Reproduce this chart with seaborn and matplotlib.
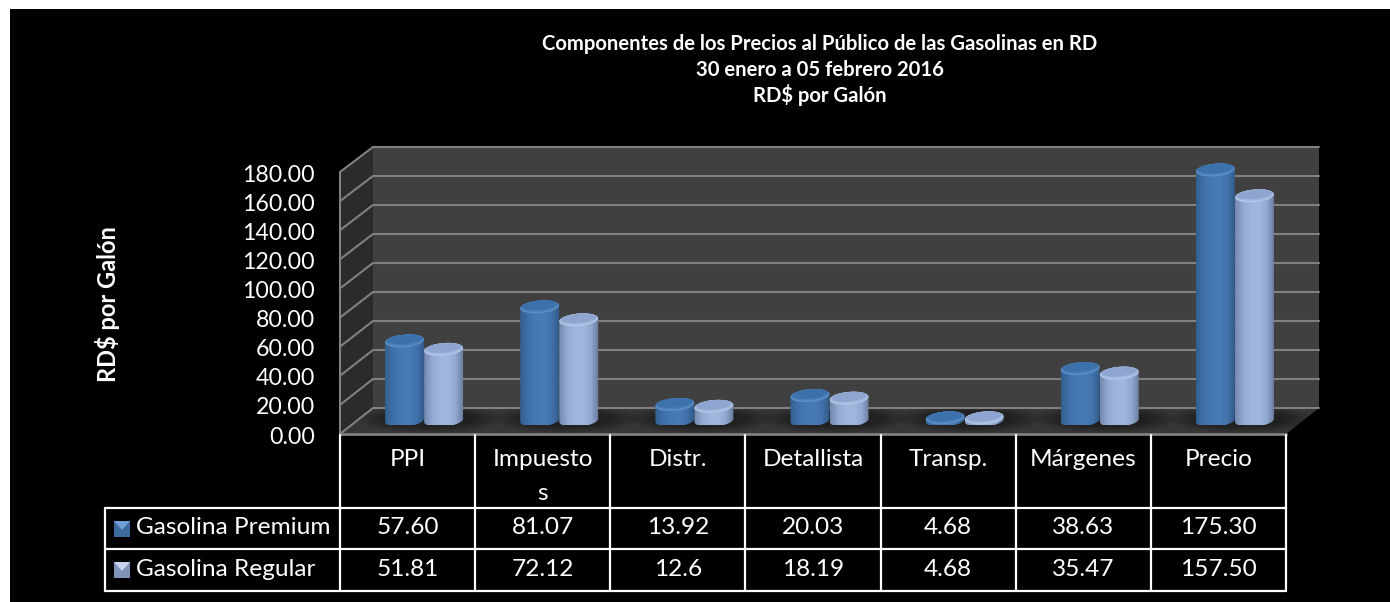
import numpy as np
import pandas as pd
import matplotlib
matplotlib.use('Agg')
import matplotlib.pyplot as plt
import seaborn as sns
from matplotlib.colors import LinearSegmentedColormap
from matplotlib.patches import Polygon, PathPatch, Rectangle, Ellipse
from matplotlib.path import Path

# Data
categories = ['PPI', 'Impuestos', 'Distr.', 'Detallista', 'Transp.', 'Márgenes', 'Precio']
premium = [57.60, 81.07, 13.92, 20.03, 4.68, 38.63, 175.30]
regular = [51.81, 72.12, 12.6, 18.19, 4.68, 35.47, 157.50]
premium_labels = ['57.60', '81.07', '13.92', '20.03', '4.68', '38.63', '175.30']
regular_labels = ['51.81', '72.12', '12.6', '18.19', '4.68', '35.47', '157.50']
category_labels = ['PPI', 'Impuesto\ns', 'Distr.', 'Detallista', 'Transp.', 'Márgenes', 'Precio']
series_names = ['Gasolina Premium', 'Gasolina Regular']
y_ticks = [0, 20, 40, 60, 80, 100, 120, 140, 160, 180]
title_lines = ['Componentes de los Precios al Público de las Gasolinas en RD',
               '30 enero a 05 febrero 2016', 'RD$ por Galón']

W, H = 1390, 602
sns.set_style('white')
plt.rcParams['font.family'] = ['Lato', 'DejaVu Sans']


def px_axes(fig, left, top, right, bottom, **kw):
    return fig.add_axes([left / W, 1 - bottom / H, (right - left) / W, (bottom - top) / H], **kw)


fig = plt.figure(figsize=(W / 100, H / 100), dpi=100, facecolor='white')

# background axes in picture pixels: black panel, 3D box, table
bg = px_axes(fig, 0, 0, W, H, zorder=0)
bg.set_xlim(0, W)
bg.set_ylim(H, 0)
bg.axis('off')
bg.add_patch(Rectangle((10, 9), W - 10, H - 9, color='black', lw=0))

x0, x1, depth_x = 340, 1286, 33
front_0, front_180 = 434, 172
back_0, back_180 = 408, 147
bg.add_patch(Polygon([(x0 + depth_x, back_180), (x1 + depth_x, back_180), (x1 + depth_x, back_0), (x0 + depth_x, back_0)],
                     color='#404040', lw=0))
bg.add_patch(Polygon([(x0, front_180), (x0 + depth_x, back_180), (x0 + depth_x, back_0), (x0, front_0)],
                     color='#2b2b2b', lw=0))
floor = Polygon([(x0, front_0), (x1, front_0), (x1 + depth_x, back_0), (x0 + depth_x, back_0)],
                color='#363636', lw=0)
bg.add_patch(floor)

# shadows on the floor
col_w = (x1 - x0) / 7
for i in range(7):
    cx = x0 + depth_x / 2 + col_w * (i + 0.5) + 6
    for k in range(8):
        sh = Ellipse((cx, 419), 2 * (72 - 4 * k), 2 * (14 - k), color='black', alpha=0.055, lw=0)
        bg.add_patch(sh)
        sh.set_clip_path(floor)

grid_c = '#808080'
for v in y_ticks:
    fy = front_0 + (front_180 - front_0) * v / 180
    by = back_0 + (back_180 - back_0) * v / 180
    bg.plot([x0, x0 + depth_x, x1 + depth_x], [fy, by, by], color=grid_c, lw=1.5, solid_joinstyle='miter')
bg.plot([x0, x0], [front_180, front_0], color=grid_c, lw=1.5)
bg.plot([x0, x1], [front_0, front_0], color=grid_c, lw=2)

# table
table_c = 'white'
rows = [508, 549, 591]
col_x = [x0 + col_w * i for i in range(8)]
for x in col_x:
    bg.plot([x, x], [front_0 + 1, rows[-1]], color=table_c, lw=1.6)
for y in rows:
    bg.plot([105, x1], [y, y], color=table_c, lw=1.6)
bg.plot([105, 105], [rows[0], rows[-1]], color=table_c, lw=1.6)

txt = dict(color='white', fontsize=17.6, ha='center', va='center')
for i in range(7):
    cx = col_x[i] + col_w / 2
    lab = category_labels[i]
    if '\n' in lab:
        bg.text(cx, 460, lab.split('\n')[0], **txt)
        bg.text(cx, 493, lab.split('\n')[1], **txt)
    else:
        bg.text(cx, 460, lab, **txt)
    bg.text(cx, 528, premium_labels[i], **txt)
    bg.text(cx, 569, regular_labels[i], **txt)
bg.text(136, 528, series_names[0], color='white', fontsize=17.6, ha='left', va='center')
bg.text(136, 569, series_names[1], color='white', fontsize=17.6, ha='left', va='center')

# legend keys
for y, base, light in [(529, '#3d6a9e', '#6f9fd8'), (570, '#8094b8', '#c5d3ee')]:
    bg.add_patch(Rectangle((114, y - 8), 16, 16, color=base, lw=0))
    bg.add_patch(Polygon([(114, y - 8), (130, y - 8), (122, y + 1)], color=light, lw=0))

# title and axis title
for line, y in zip(title_lines, [44, 70, 95]):
    bg.text(820, y, line, color='white', fontsize=14.6, fontweight='bold', ha='center', va='center')
bg.text(107, 304, 'RD$ por Galón', color='white', fontsize=17, fontweight='bold', rotation=90, ha='center', va='center')

# y tick labels sit on the front plane
front = px_axes(fig, x0, front_180 + 1.5, x1, front_0 + 1, zorder=1)
front.patch.set_alpha(0)
front.set_ylim(0, 180)
front.set_xticks([])
front.set_yticks(y_ticks)
front.set_yticklabels([f'{v:.2f}' for v in y_ticks], color='white', fontsize=16.7)
front.tick_params(axis='y', length=0, pad=18)
sns.despine(ax=front, left=True, bottom=True)

# bars on the mid plane of the box
bar_left, bar_right = x0 + depth_x / 2, x1 + depth_x / 2
bar_0 = 424.7
y_px = 1.453
ax = px_axes(fig, bar_left, bar_0 - 180 * y_px, bar_right, bar_0, zorder=2)
df = pd.DataFrame({'Componente': categories * 2,
                   'Valor': premium + regular,
                   'Gasolina': [series_names[0]] * 7 + [series_names[1]] * 7})
sns.barplot(data=df, x='Componente', y='Valor', hue='Gasolina', order=categories,
            palette=['#4a7bb5', '#9ab2dc'], width=0.578, gap=0, legend=False, saturation=1, ax=ax)
ax.set_xlim(-0.5, 6.5)
ax.set_ylim(0, 180)
ax.axis('off')
ax.patch.set_alpha(0)

x_px = (bar_right - bar_left) / 7
tilt = np.radians(5)
semi_b = 6.3
base_y = 3.0  # the cylinders stand a little above the zero line
body_cmaps = [
    LinearSegmentedColormap.from_list('b', ['#33608f', '#3f70a9', '#4679b3', '#497bb5', '#4272ab', '#2f5986']),
    LinearSegmentedColormap.from_list('l', ['#7489ae', '#93aad3', '#9fb5de', '#a0b6df', '#92a8d0', '#687a9c']),
]
top_colors = [['#5d8ec4', '#4a7eb8', '#3c71ab'], ['#b4c6e8', '#a0b6dc', '#8ea5cf']]


def ellipse_arc(cx, cy, a, b, t):
    # rotated ellipse, sizes in pixels, result in data units
    xs = a * np.cos(t) * np.cos(tilt) - b * np.sin(t) * np.sin(tilt)
    ys = a * np.cos(t) * np.sin(tilt) + b * np.sin(t) * np.cos(tilt)
    return np.column_stack([cx + xs / x_px, cy + ys / y_px])


bars = sorted([p for p in ax.patches if p.get_width() > 0], key=lambda p: p.get_x())
for bar in bars:
    idx = 0 if bar.get_facecolor()[2] < 0.8 else 1
    bx, bw, bh = bar.get_x(), bar.get_width(), bar.get_height()
    cx = bx + bw / 2
    a = bw * x_px / 2
    bar.set_alpha(0)
    # body outline: top rim, sides, lower half of the base
    top_half = ellipse_arc(cx, bh, a, semi_b, np.linspace(0, np.pi, 40))
    bot_half = ellipse_arc(cx, base_y, a, semi_b, np.linspace(np.pi, 2 * np.pi, 40))
    outline = np.vstack([top_half, bot_half, top_half[:1]])
    clip = PathPatch(Path(outline), transform=ax.transData, fc='none', ec='none')
    ax.add_patch(clip)
    grad = ax.imshow(np.linspace(0, 1, 64).reshape(1, -1), cmap=body_cmaps[idx], aspect='auto',
                     extent=[bx, bx + bw, -10 / y_px, bh + 10 / y_px], zorder=3 + idx * 0.1)
    grad.set_clip_path(clip)
    # top face, lighter towards the front rim
    for step, (col, scale, lift) in enumerate(zip(top_colors[idx], [1.0, 0.96, 0.9], [0, 0.8, 1.6])):
        face = ellipse_arc(cx, bh + lift / y_px, a * scale, semi_b * (scale - step * 0.08),
                           np.linspace(0, 2 * np.pi, 60))
        ax.add_patch(Polygon(face, closed=True, fc=col, ec='none', zorder=3.5 + idx * 0.1 + step * 0.01))
ax.set_xlim(-0.5, 6.5)
ax.set_ylim(0, 180)
for art in ax.patches:
    art.set_clip_on(False)

fig.savefig('out.png', dpi=100, facecolor='white')
